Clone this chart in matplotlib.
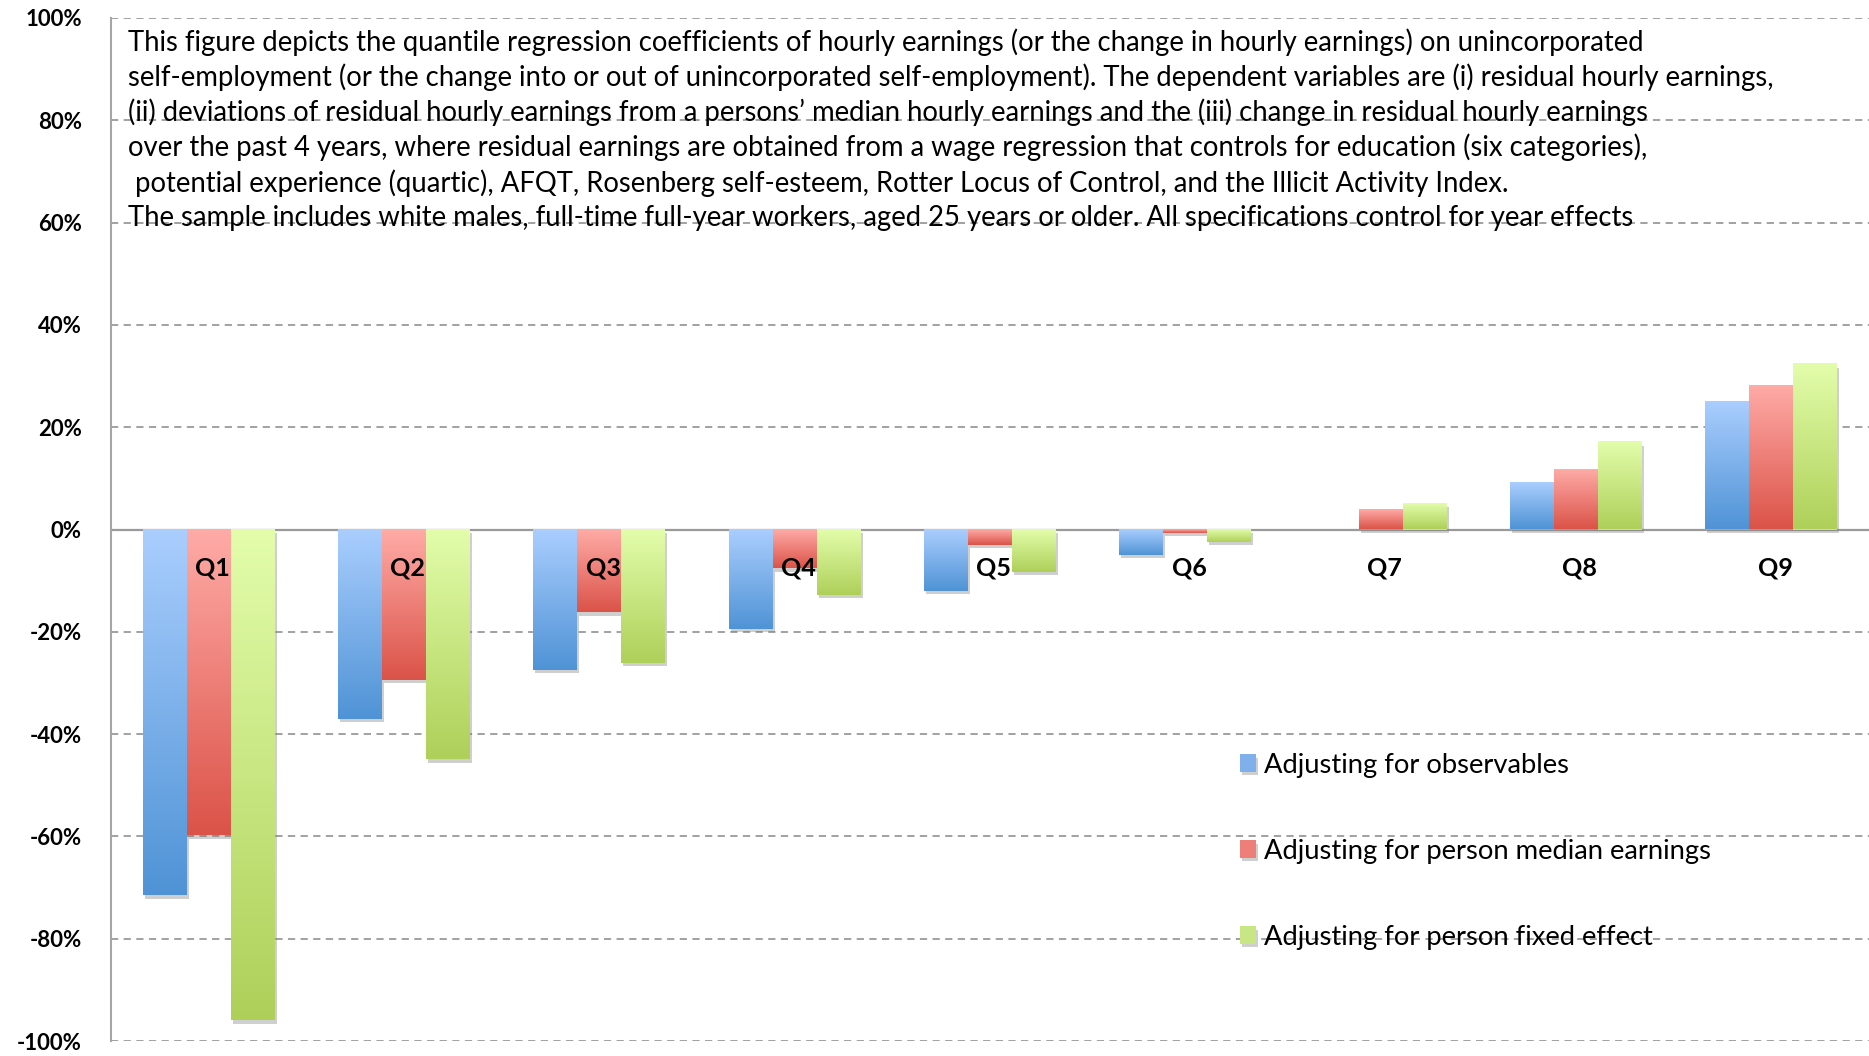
import numpy as np
import matplotlib
matplotlib.use("Agg")
import matplotlib.pyplot as plt
import matplotlib.patheffects as pe
from matplotlib.colors import LinearSegmentedColormap

# values (percent)
quantiles = ["Q1", "Q2", "Q3", "Q4", "Q5", "Q6", "Q7", "Q8", "Q9"]
observables = [-71.5, -37.0, -27.4, -19.4, -12.0, -4.9, 0.0, 9.1, 25.0]
median_earn = [-59.8, -29.4, -16.2, -7.6, -3.0, -0.6, 3.9, 11.7, 28.1]
fixed_eff = [-95.9, -44.9, -26.1, -12.8, -8.3, -2.4, 5.0, 17.1, 32.3]
series_names = ["Adjusting for observables",
                "Adjusting for person median earnings",
                "Adjusting for person fixed effect"]
y_ticks = [-100, -80, -60, -40, -20, 0, 20, 40, 60, 80, 100]

note_lines = [
    "This figure depicts the quantile regression coefficients of hourly earnings (or the change in hourly earnings) on unincorporated",
    "self-employment (or the change into or out of unincorporated self-employment). The dependent variables are (i) residual hourly earnings,",
    "(ii) deviations of residual hourly earnings from a persons\u2019 median hourly earnings and the (iii) change in residual hourly earnings",
    "over the past 4 years, where residual earnings are obtained from a wage regression that controls for education (six categories),",
    " potential experience (quartic), AFQT, Rosenberg self-esteem, Rotter Locus of Control, and the Illicit Activity Index.",
    "The sample includes white males, full-time full-year workers, aged 25 years or older. All specifications control for year effects",
]

# light (top) -> dark (bottom) gradients like the original
grads = [("#AACEFE", "#4F93D6"), ("#FFABA7", "#DB5348"), ("#E3FDAB", "#AED059")]
mids = ["#7FB0EC", "#EE7F78", "#C8E683"]

plt.rcParams['font.family'] = ['Lato', 'DejaVu Sans']

W, H = 1869, 1056
fig = plt.figure(figsize=(W / 100, H / 100), dpi=100)
ax = fig.add_axes([111 / W, 15 / H, 1758 / W, 1023 / H])

x = np.arange(len(quantiles))
width = 0.225
data = [observables, median_earn, fixed_eff]
grad = np.linspace(0, 1, 256).reshape(-1, 1)

containers = []
for k, vals in enumerate(data):
    bars = ax.bar(x + (k - 1) * width, vals, width, color=mids[k], zorder=3,
                  label=series_names[k],
                  path_effects=[pe.SimplePatchShadow(offset=(1.5, -2.5), shadow_rgbFace="#777777", alpha=0.35),
                                pe.Normal()])
    containers.append(bars)
    cmap = LinearSegmentedColormap.from_list("g%d" % k, grads[k])
    for p in bars.patches:
        h = p.get_height()
        if h == 0:
            continue
        y0 = p.get_y()
        top, bot = max(y0, y0 + h), min(y0, y0 + h)
        ax.imshow(grad, extent=[p.get_x(), p.get_x() + p.get_width(), bot, top],
                  aspect='auto', cmap=cmap, origin='upper', zorder=3.1)

for i, q in enumerate(quantiles):
    ax.text(i + 0.02, -7.5, q, ha='center', va='center', fontsize=18,
            fontweight='bold', zorder=5)

ax.axhline(0, color="#9a9a9a", lw=1.6, zorder=2.5)
ax.set_xlim(-0.5, len(quantiles) - 0.5)
ax.set_ylim(-100, 100)
ax.set_yticks(y_ticks)
ax.set_yticklabels(["%d%%" % t for t in y_ticks], fontsize=16, fontweight='bold')
ax.set_xticks([])
ax.yaxis.grid(True, ls=(0, (4, 3)), color="#9a9a9a", lw=1.3)
ax.set_axisbelow(True)
ax.tick_params(axis='y', length=0, pad=21)
for s in ["top", "right", "bottom"]:
    ax.spines[s].set_visible(False)
ax.spines["left"].set_color("#a6a6a6")
ax.spines["left"].set_linewidth(1.5)

leg = ax.legend(handles=containers, loc='upper left', bbox_to_anchor=(0.642, 0.282),
                frameon=False, fontsize=19.7, labelspacing=2.23, handlelength=0.6,
                handleheight=0.6, handletextpad=0.3, borderpad=0, borderaxespad=0)

line_y = [41.7, 76.8, 112.2, 147.5, 182.9, 218.3]
for yy, line in zip(line_y, note_lines):
    fig.text(128 / W, 1 - yy / H, line, ha='left', va='center', fontsize=19.8)

fig.savefig("out.png", dpi=100)
